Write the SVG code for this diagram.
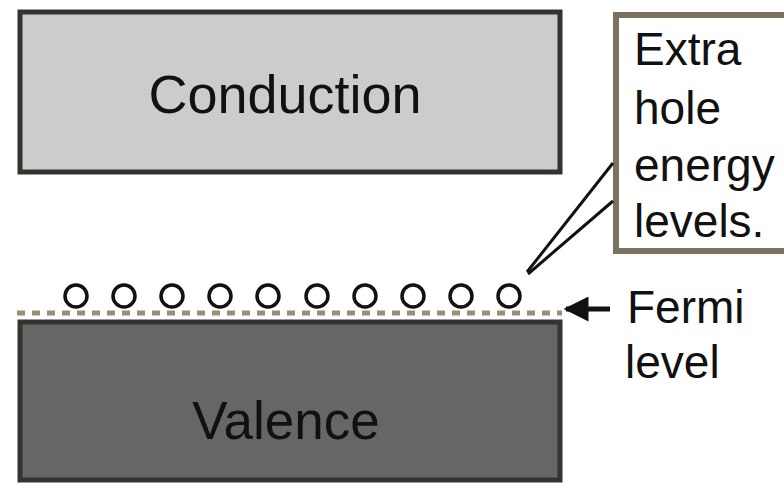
<svg xmlns="http://www.w3.org/2000/svg" width="784" height="483" viewBox="0 0 784 483">
  <defs>
    <style>
      .band { stroke: #36332e; stroke-width: 5; }
      .label { font-family: "Liberation Sans", Arial, sans-serif; fill: #111; }
      .hole { fill: #ffffff; stroke: #111; stroke-width: 3.5; }
      .lead { stroke: #111; stroke-width: 3; fill: none; }
    </style>
    <marker id="arrowhead" viewBox="0 0 10 10" refX="9" refY="5" markerWidth="5" markerHeight="5" orient="auto" markerUnits="strokeWidth">
      <path d="M0,0 L10,5 L0,10 z" fill="#111"/>
    </marker>
  </defs>
  <rect width="784" height="483" fill="#ffffff"/>

  <!-- conduction band -->
  <g id="conduction">
    <rect class="band" x="20" y="12" width="540" height="160" fill="#cccccc"/>
    <text class="label" x="285" y="113" font-size="54" text-anchor="middle">Conduction</text>
  </g>

  <!-- valence band -->
  <g id="valence">
    <rect class="band" x="20" y="322" width="540" height="158" fill="#666666"/>
    <text class="label" x="286" y="439" font-size="53" text-anchor="middle">Valence</text>
  </g>

  <!-- Fermi level (dotted) -->
  <g id="fermi-line">
    <line x1="17" y1="313" x2="562" y2="313" stroke="#9a8e78" stroke-width="5" stroke-dasharray="8,7"/>
  </g>

  <!-- hole states at the Fermi level -->
  <g id="holes">
    <circle class="hole" cx="76" cy="296" r="11"/>
    <circle class="hole" cx="124" cy="296" r="11"/>
    <circle class="hole" cx="172" cy="296" r="11"/>
    <circle class="hole" cx="220" cy="296" r="11"/>
    <circle class="hole" cx="268" cy="296" r="11"/>
    <circle class="hole" cx="317" cy="296" r="11"/>
    <circle class="hole" cx="365" cy="296" r="11"/>
    <circle class="hole" cx="413" cy="296" r="11"/>
    <circle class="hole" cx="461" cy="296" r="11"/>
    <circle class="hole" cx="509" cy="296" r="11"/>
  </g>

  <!-- callout box -->
  <g id="callout">
    <rect x="616" y="15" width="180" height="236" fill="#ffffff" stroke="#7b715f" stroke-width="6"/>
    <text class="label" font-size="46">
      <tspan x="634" y="65">Extra</tspan>
      <tspan x="634" y="124">hole</tspan>
      <tspan x="634" y="181">energy</tspan>
      <tspan x="634" y="237">levels.</tspan>
    </text>
  </g>

  <!-- Fermi label -->
  <g id="fermi-label">
    <text class="label" font-size="46">
      <tspan x="627" y="323">Fermi</tspan>
      <tspan x="625" y="378">level</tspan>
    </text>
  </g>

  <!-- connectors -->
  <g id="connectors">
    <line class="lead" x1="613" y1="163" x2="527" y2="272"/>
    <line class="lead" x1="613" y1="201" x2="528" y2="274"/>
    <line x1="610" y1="309" x2="566" y2="309" stroke="#111" stroke-width="5" marker-end="url(#arrowhead)"/>
  </g>
</svg>
